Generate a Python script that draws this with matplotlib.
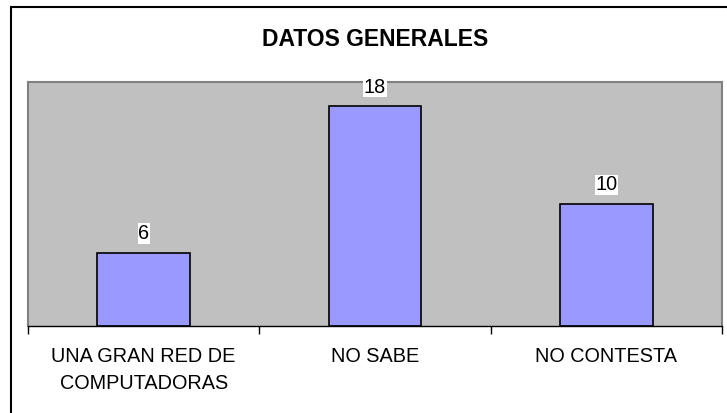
import matplotlib
matplotlib.use("Agg")
import matplotlib.pyplot as plt
from matplotlib.patches import Rectangle

# data
categories = ["UNA GRAN RED DE\nCOMPUTADORAS", "NO SABE", "NO CONTESTA"]
values = [6, 18, 10]
title = "DATOS GENERALES"

plt.rcParams['font.family'] = ['Liberation Sans', 'DejaVu Sans']

W, H = 727, 413
fig = plt.figure(figsize=(W / 100, H / 100), dpi=100)

# plot area in pixels: left 28, right 722, top 82, bottom 326
ax = fig.add_axes([28 / W, (H - 326) / H, (722 - 28) / W, (326 - 82) / H])
ax.set_facecolor("#c0c0c0")

x = list(range(len(categories)))
bars = ax.bar(x, values, width=0.4, color="#9999ff", edgecolor="black", linewidth=1.2, zorder=2)

ax.set_xlim(-0.5, len(categories) - 0.5)
ax.set_ylim(0, 20)
ax.set_yticks([])

# category labels, ticks at the boundaries
ax.set_xticks(x)
ax.set_xticklabels(categories, fontsize=14.3, linespacing=1.55)
ax.tick_params(axis="x", which="major", length=0, pad=15)
ax.set_xticks([i - 0.5 for i in range(len(categories) + 1)], minor=True)
ax.tick_params(axis="x", which="minor", length=6, width=1, color="black")

for side in ["left", "top", "right"]:
    ax.spines[side].set_color("#808080")
    ax.spines[side].set_linewidth(1.5)
ax.spines["bottom"].set_color("black")
ax.spines["bottom"].set_linewidth(1)

# value labels with white box
labels = ax.bar_label(bars, labels=[str(v) for v in values], padding=7, fontsize=14.3)
for t in labels:
    t.set_bbox(dict(facecolor="white", edgecolor="none", pad=0.5))

fig.text(375 / W, 1 - 40 / H, title, ha="center", va="center", fontsize=16.5, fontweight="bold")

# outer chart border (runs past the right and bottom edges)
fig.patches.append(Rectangle((11 / W, -0.1), 1.2, 1 - 7 / H + 0.1, transform=fig.transFigure,
                             fill=False, edgecolor="black", linewidth=1.5))

fig.savefig("out.png", dpi=100)
